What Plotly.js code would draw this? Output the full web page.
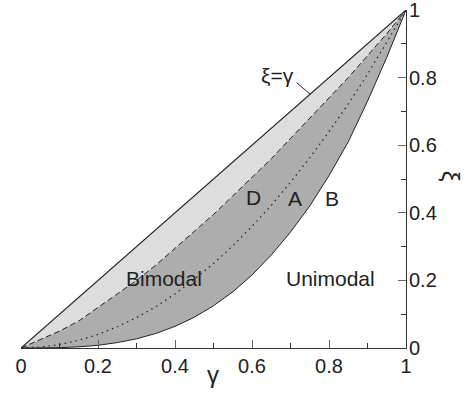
<!DOCTYPE html>
<html>
<head>
<meta charset="utf-8">
<script src="https://cdn.plot.ly/plotly-3.0.1.min.js"></script>
<style>html,body{margin:0;padding:0;background:#fff;}#chart{width:471px;height:394px;}</style>
</head>
<body>
<div id="chart"></div>
<script>
// gamma grid
const gamma = [0,0.05,0.1,0.15,0.2,0.25,0.3,0.35,0.4,0.45,0.5,0.55,0.6,0.65,0.7,0.75,0.8,0.85,0.9,0.95,1];
// upper boundary xi = gamma
const xiDiag = [0,0.05,0.1,0.15,0.2,0.25,0.3,0.35,0.4,0.45,0.5,0.55,0.6,0.65,0.7,0.75,0.8,0.85,0.9,0.95,1];
// curve D (dashed)
const xiD = [0,0.025,0.05,0.08,0.12,0.16,0.2,0.245,0.295,0.345,0.395,0.45,0.505,0.56,0.62,0.68,0.74,0.8,0.865,0.93,1];
// curve A (dotted)
const xiA = [0,0.003,0.01,0.023,0.04,0.063,0.09,0.122,0.16,0.203,0.25,0.302,0.36,0.422,0.49,0.563,0.64,0.722,0.81,0.903,1];
// curve B (lower solid)
const xiB = [0,0.0002,0.001,0.0035,0.008,0.016,0.027,0.043,0.064,0.091,0.125,0.166,0.216,0.275,0.343,0.42,0.51,0.61,0.73,0.86,1];
// tick values
const xTicks = [0,0.2,0.4,0.6,0.8,1];
const xTickText = ['0','0.2','0.4','0.6','0.8','1'];
const yTicks = [0,0.2,0.4,0.6,0.8,1];
const yTickText = ['0','0.2','0.4','0.6','0.8','1'];

const FONT = 'Liberation Sans, Arial, Helvetica, sans-serif';
const INK = '#222';

const traces = [
  {x: gamma, y: xiB, mode: 'lines', line: {color: INK, width: 1}, hoverinfo: 'skip'},
  {x: gamma, y: xiD, mode: 'lines', fill: 'tonexty', fillcolor: '#adadad',
   line: {color: INK, width: 1, dash: '6px,3px'}, hoverinfo: 'skip'},
  {x: gamma, y: xiDiag, mode: 'lines', fill: 'tonexty', fillcolor: '#dddddd',
   line: {color: INK, width: 1.2}, hoverinfo: 'skip'},
  {x: gamma, y: xiA, mode: 'lines', line: {color: INK, width: 1.2, dash: '1.5px,4px'}, hoverinfo: 'skip'}
];

const axisCommon = {
  range: [0, 1], showgrid: false, zeroline: false, showline: true,
  linecolor: '#333', linewidth: 1, ticks: 'inside', ticklen: 8, tickwidth: 1,
  tickcolor: '#666', tickfont: {family: FONT, size: 20, color: INK},
  ticklabeloverflow: 'allow',
  minor: {ticks: 'inside', ticklen: 5, tickwidth: 1, tickcolor: '#333', dtick: 0.1, showgrid: false},
  fixedrange: true
};

const layout = {
  width: 471, height: 394,
  margin: {l: 21, r: 65, t: 10, b: 46, pad: 0},
  paper_bgcolor: '#fff', plot_bgcolor: '#fff',
  showlegend: false,
  xaxis: Object.assign({}, axisCommon, {tickmode: 'array', tickvals: xTicks, ticktext: xTickText}),
  yaxis: Object.assign({}, axisCommon, {side: 'right', tickmode: 'array', tickvals: yTicks, ticktext: yTickText, ticklabelstandoff: -2}),
  font: {family: FONT, color: INK},
  annotations: [
    {x: 0.603, y: 0.444, xref: 'x', yref: 'y', text: 'D', showarrow: false, font: {size: 21, family: FONT, color: INK}},
    {x: 0.712, y: 0.442, xref: 'x', yref: 'y', text: 'A', showarrow: false, font: {size: 21, family: FONT, color: INK}},
    {x: 0.807, y: 0.442, xref: 'x', yref: 'y', text: 'B', showarrow: false, font: {size: 21, family: FONT, color: INK}},
    {x: 0.371, y: 0.206, xref: 'x', yref: 'y', text: 'Bimodal', showarrow: false, font: {size: 21, family: FONT, color: INK}},
    {x: 0.805, y: 0.206, xref: 'x', yref: 'y', text: 'Unimodal', showarrow: false, font: {size: 21, family: FONT, color: INK}},
    {x: 0.667, y: 0.805, xref: 'x', yref: 'y', text: 'ξ=γ', showarrow: false, font: {size: 21, family: FONT, color: INK}},
    {x: 0.499, y: -0.125, xref: 'x', yref: 'paper', text: 'γ', showarrow: false, font: {size: 24, family: FONT, color: INK}},
    {x: 1.155, y: 0.509, xref: 'paper', yref: 'paper', text: 'ξ', textangle: 90, showarrow: false, font: {size: 24, family: FONT, color: INK}}
  ],
  shapes: [
    {type: 'line', xref: 'x', yref: 'y', x0: 0.716, y0: 0.785, x1: 0.751, y1: 0.751, line: {color: INK, width: 1}}
  ]
};

Plotly.newPlot('chart', traces, layout, {staticPlot: true, displayModeBar: false});
</script>
</body>
</html>
